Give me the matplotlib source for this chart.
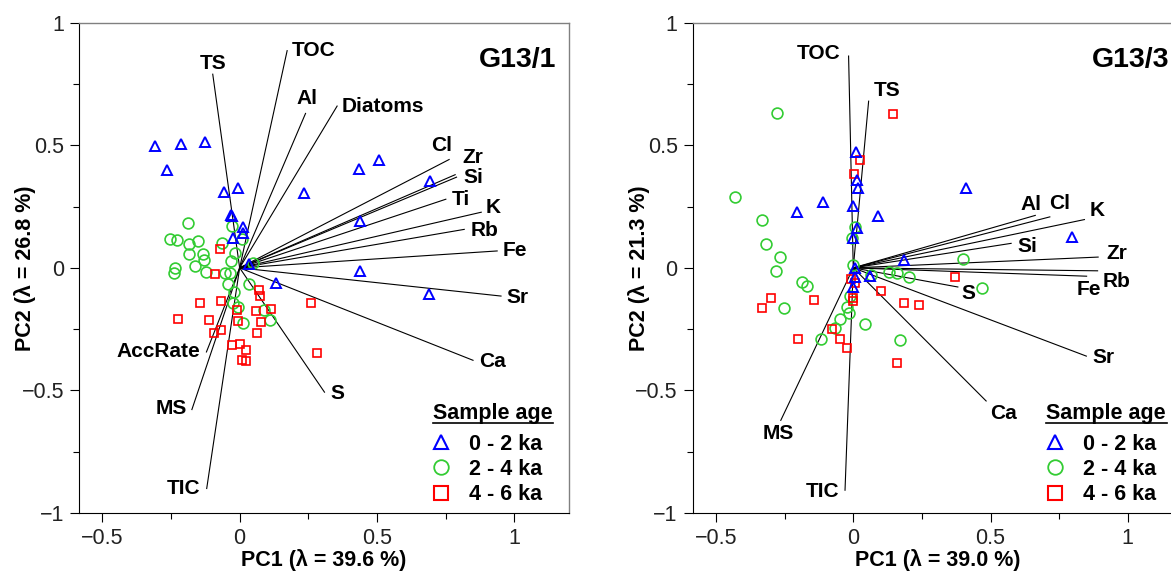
import matplotlib
matplotlib.use("Agg")
import matplotlib.pyplot as plt
from matplotlib.lines import Line2D
from matplotlib.ticker import MultipleLocator

plt.rcParams['font.family'] = ['Liberation Sans', 'DejaVu Sans']

# ---- G13/1 loadings ----
vars_g1 = ['TS', 'TOC', 'Al', 'Diatoms', 'Cl', 'Zr', 'Si', 'Ti', 'K', 'Rb', 'Fe',
           'Sr', 'Ca', 'S', 'AccRate', 'MS', 'TIC']
pc1_g1 = [-0.098, 0.173, 0.240, 0.355, 0.763, 0.785, 0.790, 0.751, 0.880, 0.818, 0.938,
          0.952, 0.850, 0.309, -0.121, -0.174, -0.120]
pc2_g1 = [0.790, 0.886, 0.630, 0.660, 0.442, 0.380, 0.370, 0.280, 0.227, 0.157, 0.069,
          -0.115, -0.377, -0.507, -0.343, -0.578, -0.900]

# ---- G13/1 sample scores ----
g1_age02_x = [-0.310, -0.214, -0.126, -0.265, -0.056, -0.005, -0.031, -0.029, 0.012, 0.013,
              -0.024, 0.033, 0.131, 0.236, 0.434, 0.506, 0.693, 0.437, 0.439, 0.690]
g1_age02_y = [0.498, 0.505, 0.514, 0.399, 0.309, 0.324, 0.215, 0.213, 0.168, 0.142,
              0.122, 0.017, -0.060, 0.306, 0.402, 0.438, 0.354, 0.191, -0.011, -0.107]
g1_age24_x = [-0.187, -0.253, -0.229, -0.185, -0.152, -0.186, -0.132, -0.131, -0.164, -0.234,
              -0.238, -0.122, -0.028, -0.065, -0.018, -0.030, -0.054, -0.036, -0.041, 0.047,
              0.034, -0.019, -0.024, -0.005, 0.013, 0.087, 0.111, 0.007]
g1_age24_y = [0.181, 0.118, 0.112, 0.096, 0.108, 0.055, 0.056, 0.034, 0.007, -0.002,
              -0.021, -0.017, 0.170, 0.100, 0.059, 0.027, -0.022, -0.022, -0.067, 0.019,
              -0.064, -0.098, -0.142, -0.158, -0.223, -0.170, -0.213, 0.118]
g1_age46_x = [-0.072, -0.090, 0.070, 0.073, -0.144, -0.069, -0.009, -0.007, 0.058, 0.114,
              0.260, -0.225, -0.111, 0.076, -0.069, -0.094, 0.064, -0.029, 0.003, 0.023,
              0.007, 0.023, 0.283]
g1_age46_y = [0.075, -0.023, -0.089, -0.113, -0.145, -0.134, -0.173, -0.216, -0.174, -0.169,
              -0.142, -0.210, -0.213, -0.220, -0.254, -0.265, -0.264, -0.315, -0.310, -0.333,
              -0.374, -0.381, -0.349]

# ---- G13/3 loadings ----
vars_g3 = ['TOC', 'TS', 'Al', 'Cl', 'K', 'Si', 'Zr', 'Rb', 'Fe', 'S', 'Sr', 'Ca', 'MS', 'TIC']
pc1_g3 = [-0.017, 0.056, 0.663, 0.716, 0.842, 0.575, 0.892, 0.890, 0.850, 0.381, 0.849,
          0.484, -0.264, -0.030]
pc2_g3 = [0.864, 0.680, 0.214, 0.208, 0.197, 0.100, 0.044, -0.012, -0.034, -0.078, -0.360,
          -0.543, -0.622, -0.907]

# ---- G13/3 sample scores ----
g3_age02_x = [0.011, 0.014, 0.016, 0.000, -0.206, -0.112, 0.091, 0.013, -0.002, 0.006,
              0.007, 0.061, 0.000, 0.186, 0.409, 0.797]
g3_age02_y = [0.471, 0.358, 0.324, 0.254, 0.226, 0.269, 0.211, 0.161, 0.122, -0.001,
              -0.037, -0.035, -0.078, 0.031, 0.324, 0.127]
g3_age24_x = [-0.276, -0.431, -0.334, -0.319, -0.266, -0.283, -0.186, -0.170, 0.008, -0.003,
              0.000, 0.065, 0.130, 0.161, 0.202, 0.401, 0.470, -0.252, -0.021, -0.015,
              -0.047, -0.066, -0.119, 0.044, 0.171, -0.011]
g3_age24_y = [0.630, 0.290, 0.196, 0.096, 0.043, -0.011, -0.056, -0.073, 0.167, 0.122,
              0.011, -0.028, -0.016, -0.019, -0.037, 0.038, -0.084, -0.162, -0.158, -0.185,
              -0.207, -0.244, -0.292, -0.231, -0.295, -0.116]
g3_age46_x = [0.143, 0.024, 0.004, -0.007, 0.007, -0.001, -0.001, 0.101, -0.144, 0.186,
              0.238, 0.372, -0.076, -0.200, -0.333, -0.300, -0.049, -0.021, 0.158]
g3_age46_y = [0.626, 0.442, 0.384, -0.044, -0.062, -0.122, -0.134, -0.094, -0.132, -0.142,
              -0.152, -0.038, -0.250, -0.292, -0.162, -0.122, -0.292, -0.325, -0.390]

age_labels = ['0 - 2 ka', '2 - 4 ka', '4 - 6 ka']
blue, green, red = '#0000ff', '#33cc33', '#ff0000'

# label placement: offset in pixels from the arrow tip, horizontal alignment
place_g1 = {
    'TS': (0, 11, 'center'), 'TOC': (5, 0, 'left'), 'Al': (1, 15, 'center'),
    'Diatoms': (5, 0, 'left'), 'Cl': (-8, 14, 'center'), 'Zr': (7, 17, 'left'),
    'Si': (7, 0, 'left'), 'Ti': (6, 0, 'left'), 'K': (4, 5, 'left'), 'Rb': (6, -1, 'left'),
    'Fe': (5, 0, 'left'), 'Sr': (5, -1, 'left'), 'Ca': (6, -1, 'left'), 'S': (6, -1, 'left'),
    'AccRate': (-6, 0, 'right'), 'MS': (-5, 1, 'right'), 'TIC': (-6, 0, 'right'),
}
place_g3 = {
    'TOC': (-8, 3, 'right'), 'TS': (5, 11, 'left'), 'Al': (-4, 11, 'center'),
    'Cl': (10, 13, 'center'), 'K': (5, 9, 'left'), 'Si': (6, -3, 'left'),
    'Zr': (8, 4, 'left'), 'Rb': (5, -11, 'left'), 'Fe': (2, -13, 'center'),
    'S': (4, -7, 'left'), 'Sr': (6, -1, 'left'), 'Ca': (4, -13, 'left'),
    'MS': (-2, -13, 'center'), 'TIC': (-6, -1, 'right'),
}


def biplot(ax, names, px, py, places, scores, title, xlab, ylab):
    for name, x, y in zip(names, px, py):
        ax.plot([0, x], [0, y], color='black', lw=0.8, zorder=2)
        dx, dy, ha = places[name]
        ax.annotate(name, xy=(x, y), xytext=(dx, dy), textcoords='offset pixels',
                    ha=ha, va='center', fontsize=15, fontweight='bold', zorder=4)

    (bx, by), (gx, gy), (rx, ry) = scores
    ax.plot(gx, gy, 'o', ls='none', ms=7.8, mfc='none', mec=green, mew=1.2, zorder=3)
    ax.plot(rx, ry, 's', ls='none', ms=6.3, mfc='none', mec=red, mew=1.2, zorder=3)
    ax.plot(bx, by, '^', ls='none', ms=7.5, mfc='none', mec=blue, mew=1.4, zorder=3)

    ax.set_xlim(-0.585, 1.2)
    ax.set_ylim(-1, 1)
    ax.xaxis.set_major_locator(MultipleLocator(0.5))
    ax.xaxis.set_minor_locator(MultipleLocator(0.25))
    ax.yaxis.set_major_locator(MultipleLocator(0.5))
    ax.yaxis.set_minor_locator(MultipleLocator(0.25))
    ax.xaxis.set_major_formatter(plt.FuncFormatter(lambda v, p: f'{v:g}'.replace('-', '\u2212')))
    ax.yaxis.set_major_formatter(plt.FuncFormatter(lambda v, p: f'{v:g}'.replace('-', '\u2212')))
    ax.tick_params(which='major', direction='out', length=6.8, width=0.8,
                   labelsize=15.5, labelcolor='#222222', pad=4)
    ax.tick_params(which='minor', direction='out', length=4.5, width=0.8)
    for side in ['top', 'right']:
        ax.spines[side].set_color('#808080')
        ax.spines[side].set_linewidth(1.0)
    for side in ['left', 'bottom']:
        ax.spines[side].set_color('black')
        ax.spines[side].set_linewidth(0.8)

    ax.set_xlabel(xlab, fontsize=15.5, fontweight='bold')
    ax.set_ylabel(ylab, fontsize=15.5, fontweight='bold')
    ax.xaxis.set_label_coords(0.5, -0.074)
    ax.yaxis.set_label_coords(-0.088, 0.5)

    ax.text(0.973, 0.923, title, transform=ax.transAxes, ha='right', va='center',
            fontsize=20.5, fontweight='bold')

    # legend with an underlined heading
    ax.text(0.722, 0.204, 'Sample age', transform=ax.transAxes, ha='left', va='center',
            fontsize=15.5, fontweight='bold')
    ax.plot([0.722, 0.967], [0.184, 0.184], transform=ax.transAxes, color='black',
            lw=1.2, clip_on=False)
    handles = [
        Line2D([], [], marker='^', ls='none', ms=9.5, mfc='none', mec=blue, mew=1.5),
        Line2D([], [], marker='o', ls='none', ms=10.5, mfc='none', mec=green, mew=1.3),
        Line2D([], [], marker='s', ls='none', ms=9.5, mfc='none', mec=red, mew=1.5),
    ]
    ax.legend(handles, age_labels, loc='upper left', bbox_to_anchor=(0.717, 0.162),
              frameon=False, borderpad=0, borderaxespad=0, handlelength=1.0,
              handletextpad=0.8, labelspacing=0.2,
              prop={'size': 15.5, 'weight': 'bold'})


fig = plt.figure(figsize=(11.71, 5.72), dpi=100)
ax1 = fig.add_axes([0.0675, 0.1031, 0.4185, 0.8572])
ax2 = fig.add_axes([0.5915, 0.1031, 0.4185, 0.8572])

biplot(ax1, vars_g1, pc1_g1, pc2_g1, place_g1,
       [(g1_age02_x, g1_age02_y), (g1_age24_x, g1_age24_y), (g1_age46_x, g1_age46_y)],
       'G13/1', 'PC1 (λ = 39.6 %)', 'PC2 (λ = 26.8 %)')
biplot(ax2, vars_g3, pc1_g3, pc2_g3, place_g3,
       [(g3_age02_x, g3_age02_y), (g3_age24_x, g3_age24_y), (g3_age46_x, g3_age46_y)],
       'G13/3', 'PC1 (λ = 39.0 %)', 'PC2 (λ = 21.3 %)')

fig.savefig('out.png', dpi=100)
